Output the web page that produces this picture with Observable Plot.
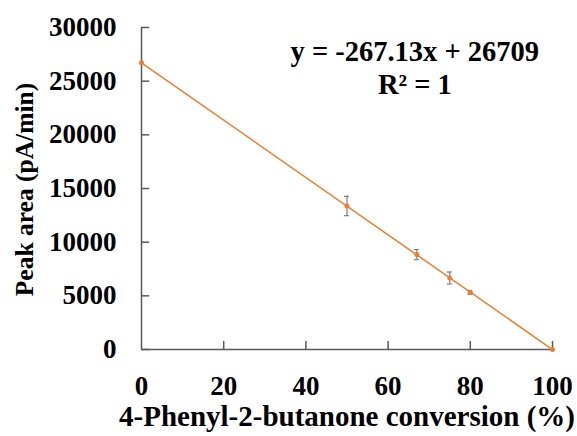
<!DOCTYPE html>
<html>
<head>
<meta charset="utf-8">
<script src="https://cdn.jsdelivr.net/npm/d3@7"></script>
<script src="https://cdn.jsdelivr.net/npm/@observablehq/plot@0.6"></script>
<style>
  html, body { margin: 0; padding: 0; background: #fff; }
  svg { display: block; }
</style>
</head>
<body>
<div id="chart"></div>
<script>
// Data
const conversion = [0, 50, 67, 75, 80, 100];            // %
const peakArea   = [26709, 13370, 8840, 6660, 5320, 0]; // pA/min
const errorBar   = [0, 900, 470, 560, 180, 0];          // +/- pA/min
const fitLine    = {x: [0, 100], y: [26709, -4]};       // y = -267.13x + 26709
const xTicks = [0, 20, 40, 60, 80, 100];
const yTicks = [0, 5000, 10000, 15000, 20000, 25000, 30000];
const equationText = "y = -267.13x + 26709";
const r2Text = "R² = 1";
const xTitle = "4-Phenyl-2-butanone conversion (%)";
const yTitle = "Peak area (pA/min)";

const data = conversion.map((x, i) => ({x, y: peakArea[i], e: errorBar[i]}));
const errData = data.filter(d => d.e > 0);
const fit = fitLine.x.map((x, i) => ({x, y: fitLine.y[i]}));

const axisColor = "#595959";
const orange = "#ED7D31";

const chart = Plot.plot({
  width: 577,
  height: 436,
  marginLeft: 141,
  marginRight: 25,
  marginTop: 27,
  marginBottom: 87,
  style: {fontFamily: "'Liberation Serif', 'Times New Roman', serif", fontWeight: "bold", color: "#000", background: "#fff", overflow: "visible"},
  x: {domain: [0, 100], axis: null},
  y: {domain: [0, 30000], axis: null},
  marks: [
    // axis lines
    Plot.ruleX([0], {y1: 0, y2: 30000, stroke: axisColor, strokeWidth: 1.5}),
    Plot.ruleY([0], {x1: 0, x2: 100, stroke: axisColor, strokeWidth: 1.5}),
    // inward ticks
    Plot.ruleY(yTicks, {x1: 0, x2: 2, stroke: axisColor, strokeWidth: 1.5}),
    Plot.ruleX(xTicks.filter(t => t > 0), {y1: 0, y2: 750, stroke: axisColor, strokeWidth: 1.5}),
    // tick labels
    Plot.axisY(yTicks, {tickSize: 0, tickPadding: 25, fontSize: 27, tickFormat: d => String(d), fill: "#000", label: null}),
    Plot.axisX(xTicks, {tickSize: 0, tickPadding: 26, fontSize: 27, tickFormat: d => String(d), fill: "#000", label: null}),
    // titles
    Plot.text([xTitle], {frameAnchor: "bottom", dy: 76, fontSize: 29, text: d => d, fill: "#000"}),
    Plot.text([yTitle], {frameAnchor: "left", textAnchor: "middle", rotate: -90, dx: -117, dy: 1, fontSize: 25.5, text: d => d, fill: "#000"}),
    // regression line
    Plot.line(fit, {x: "x", y: "y", stroke: orange, strokeWidth: 1.5}),
    // error bars
    Plot.ruleX(errData, {x: "x", y1: d => d.y - d.e, y2: d => d.y + d.e, stroke: "#7f7f7f", strokeWidth: 1.2}),
    Plot.ruleY(errData, {y: d => d.y - d.e, x1: d => d.x - 0.6, x2: d => d.x + 0.6, stroke: "#7f7f7f", strokeWidth: 1.2}),
    Plot.ruleY(errData, {y: d => d.y + d.e, x1: d => d.x - 0.6, x2: d => d.x + 0.6, stroke: "#7f7f7f", strokeWidth: 1.2}),
    // points
    Plot.dot(data, {x: "x", y: "y", r: 2.5, fill: orange, stroke: "none"}),
    // equation
    Plot.text([equationText], {x: 66.5, y: 27750, fontSize: 28.5, text: d => d, fill: "#000"}),
    Plot.text([r2Text], {x: 66.5, y: 24650, fontSize: 28.5, text: d => d, fill: "#000"})
  ]
});
document.getElementById("chart").appendChild(chart);
</script>
</body>
</html>
